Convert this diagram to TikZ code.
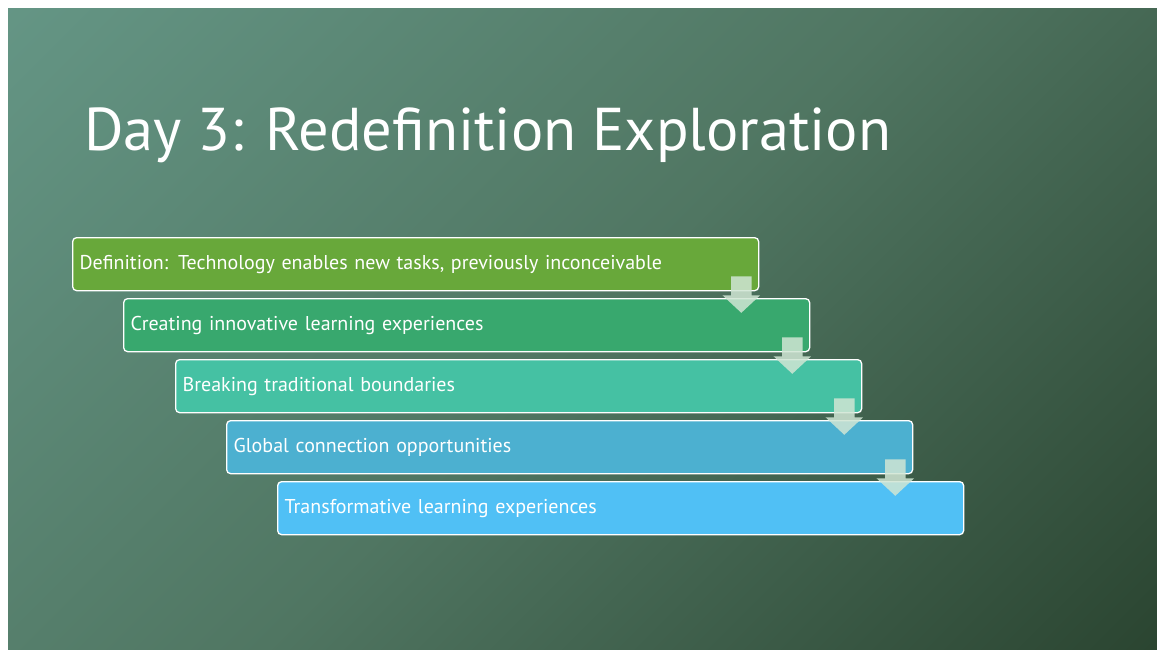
\documentclass[tikz,border=0pt]{standalone}
\usepackage{fontspec}
\setmainfont{PT Sans}
\definecolor{bgA}{RGB}{104,155,139}
\definecolor{bgM}{RGB}{80,118,98}
\definecolor{bgB}{RGB}{36,60,40}
\definecolor{cA}{RGB}{104,168,58}
\definecolor{cB}{RGB}{56,168,110}
\definecolor{cC}{RGB}{69,193,163}
\definecolor{cD}{RGB}{76,176,208}
\definecolor{cE}{RGB}{80,192,245}
\definecolor{arw}{RGB}{208,230,212}
\tikzset{
  stepbox/.style={draw=white, line width=1.3pt, rounded corners=4pt, anchor=north west,
    minimum width=686pt, minimum height=53pt, text width=672pt, inner xsep=7pt,
    align=left, text=white, font=\fontsize{20}{22}\selectfont},
  downarrow/.style={fill=arw, fill opacity=0.85, draw=none}
}
\begin{document}
\begin{tikzpicture}[x=1pt,y=-1pt]
\useasboundingbox (0,0) rectangle (1157,649);
\fill[white] (0,0) rectangle (1157,649);
\begin{scope}
\clip (8,8) rectangle (1157,649);
\shade[top color=bgA, bottom color=bgB, middle color=bgM, shading angle=45]
  (-167.5,-421.5) rectangle (1332.5,1078.5);
\end{scope}
\node[anchor=base west, text=white, font=\fontsize{60.4}{66}\selectfont, inner sep=0pt] (title) at (84,150) {Day 3: Redefinition Exploration};
\node[stepbox, fill=cA] (b1) at (72,237) {Definition: Technology enables new tasks, previously inconceivable};
\node[stepbox, fill=cB] (b2) at (123,298) {Creating innovative learning experiences};
\node[stepbox, fill=cC] (b3) at (175,359) {Breaking traditional boundaries};
\node[stepbox, fill=cD] (b4) at (226,420) {Global connection opportunities};
\node[stepbox, fill=cE] (b5) at (277,481) {Transformative learning experiences};
\foreach \a/\b in {b1/b2,b2/b3,b3/b4,b4/b5}{
  \path[downarrow] ([xshift=-18pt]\a.south east) ++(-10.3,-15) -- ++(20.6,0) -- ++(0,19) -- ++(8.5,0)
    -- ([xshift=-18pt,yshift=-21.5pt]\a.south east) -- ++(-18.8,-17.5) -- ++(8.5,0) -- cycle;
}
\end{tikzpicture}
\end{document}
